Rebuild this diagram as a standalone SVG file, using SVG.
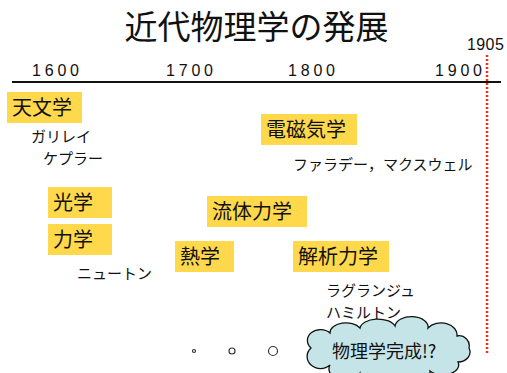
<svg xmlns="http://www.w3.org/2000/svg" width="507" height="373" viewBox="0 0 507 373">
<style>
.jp{font-family:"Noto Sans CJK JP","Noto Sans",sans-serif;fill:#111}
.yr{font-family:"Liberation Sans",Arial,sans-serif;font-size:16px;letter-spacing:3.8px;fill:#111}
.box{fill:#FFD84C}
.bt{font-size:20px}
.lb{font-size:15px}
.dot{fill:#fff;stroke:#333;stroke-width:1.2}
</style>
<rect width="507" height="373" fill="#fff"/>
<text class="jp" x="256.5" y="39" font-size="33" text-anchor="middle">近代物理学の発展</text>
<g id="axis">
<line x1="12" y1="82" x2="501" y2="82" stroke="#111" stroke-width="2"/>
<text class="yr" x="32" y="76">1600</text>
<text class="yr" x="166" y="76">1700</text>
<text class="yr" x="288" y="76">1800</text>
<text class="yr" x="435" y="76">1900</text>
</g>
<g id="y1905">
<text x="467" y="50" font-family="Liberation Sans,Arial,sans-serif" font-size="16" letter-spacing="0.4" fill="#111">1905</text>
<line x1="487" y1="55" x2="487" y2="355" stroke="#FF2A1A" stroke-width="2.5" stroke-dasharray="2,2"/>
</g>
<g id="tenmon"><rect class="box" x="7" y="92" width="75" height="31"/><text class="jp bt" x="12" y="115">天文学</text></g>
<g id="denji"><rect class="box" x="261" y="114" width="96" height="31"/><text class="jp bt" x="266" y="137">電磁気学</text></g>
<g id="kogaku"><rect class="box" x="48" y="187" width="64" height="31"/><text class="jp bt" x="53" y="210">光学</text></g>
<g id="ryutai"><rect class="box" x="207" y="196" width="100" height="31"/><text class="jp bt" x="212" y="219">流体力学</text></g>
<g id="rikigaku"><rect class="box" x="48" y="224" width="64" height="31"/><text class="jp bt" x="53" y="247">力学</text></g>
<g id="netsu"><rect class="box" x="175" y="241" width="59" height="31"/><text class="jp bt" x="180" y="264">熱学</text></g>
<g id="kaiseki"><rect class="box" x="293" y="241" width="96" height="31"/><text class="jp bt" x="298" y="264">解析力学</text></g>
<g id="names">
<text class="jp lb" x="31" y="142">ガリレイ</text>
<text class="jp lb" x="43" y="164">ケプラー</text>
<text class="jp lb" x="293" y="170">ファラデー，マクスウェル</text>
<text class="jp lb" x="77" y="279">ニュートン</text>
<text class="jp lb" x="326" y="296">ラグランジュ</text>
<text class="jp lb" x="326" y="318">ハミルトン</text>
</g>
<g id="dots">
<circle class="dot" cx="194" cy="351" r="1.5"/>
<circle class="dot" cx="232" cy="351" r="3"/>
<circle class="dot" cx="273" cy="351" r="4.5"/>
</g>
<g id="cloud">
<path d="M311,348 A12,10 0 0 1 330,333 A16,10 0 0 1 360,328 A18,10 0 0 1 395,326 A16,10 0 0 1 428,328 A16,12 0 0 1 457,336 A10,10 0 0 1 469,348 A12,10 0 0 1 458,362 A16,10 0 0 1 430,371 A18,10 0 0 1 395,375 A18,10 0 0 1 360,373 A14,10 0 0 1 330,365 A10,9 0 0 1 311,348 Z" fill="#C4E4E8" stroke="#111" stroke-width="1.3"/>
<text class="jp" x="332" y="358" font-size="18">物理学完成!?</text>
</g>
</svg>
